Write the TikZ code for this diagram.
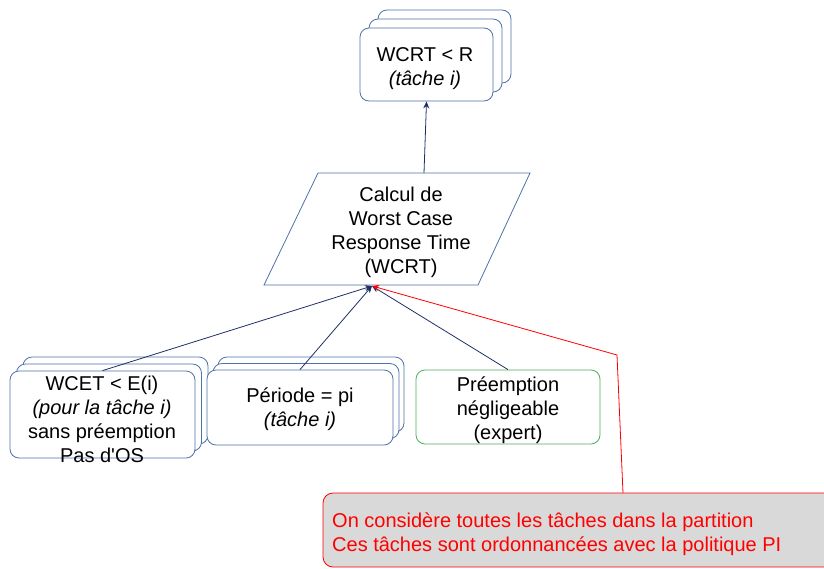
\documentclass[tikz,border=0pt]{standalone}
\usepackage{fontspec}
\setmainfont{Liberation Sans}
\usetikzlibrary{arrows.meta}
\definecolor{boxblue}{HTML}{4F72A8}
\definecolor{navy}{HTML}{1F2F66}
\definecolor{boxgreen}{HTML}{4CAF62}
\definecolor{notegray}{HTML}{D9D9D9}
\begin{document}
\begin{tikzpicture}[x=1pt,y=-1pt,
  every node/.style={font=\fontsize{20}{24}\selectfont, align=center, inner sep=0pt},
  card/.style={draw=boxblue, fill=white, rounded corners=9pt, line width=0.8pt},
  gcard/.style={draw=boxgreen, fill=white, rounded corners=9pt, line width=0.8pt},
  link/.style={draw=navy, line width=0.8pt, -{Stealth[length=7pt,width=6pt]}},
  rlink/.style={draw=red, line width=0.8pt, -{Stealth[length=7pt,width=6pt]}}]
\useasboundingbox (0,0) rectangle (824,568);
% top stacked box
\node[card, minimum width=133pt, minimum height=73pt] (topc) at (444.5,46.5) {};
\node[card, minimum width=133pt, minimum height=73pt] (topb) at (435.5,55.5) {};
\node[card, minimum width=133pt, minimum height=73pt] (topa) at (426.5,64.5) {};
\node (toptxt) at (425,69) {WCRT < R\\\textit{(tâche i)}};
% parallelogram
\draw[draw=boxblue, line width=0.8pt, fill=white] (264,285) -- (478,285) -- (530,173) -- (318,173) -- cycle;
\node (calc) at (401,232) {Calcul de\\Worst Case\\Response Time\\(WCRT)};
\coordinate (ptop) at (424,173);
\coordinate (conv) at (372,286);
% WCET stacked
\node[card, minimum width=185pt, minimum height=87pt] (wc3) at (115.5,400.5) {};
\node[card, minimum width=185pt, minimum height=87pt] (wc2) at (109,407.5) {};
\node[card, minimum width=185pt, minimum height=87pt] (wc1) at (102.5,414.5) {};
\node (wctxt) at (102,419) {WCET < E(i)\\\textit{(pour la tâche i)}\\sans préemption\\Pas d\textquotesingle OS};
% Periode stacked
\node[card, minimum width=186pt, minimum height=75pt] (pe3) at (311,394.5) {};
\node[card, minimum width=186pt, minimum height=75pt] (pe2) at (306,401) {};
\node[card, minimum width=186pt, minimum height=75pt] (pe1) at (300,407.5) {};
\node (petxt) at (300,409) {Période = pi\\\textit{(tâche i)}};
% Preemption
\node[gcard, minimum width=184pt, minimum height=74pt] (pr) at (508,407) {};
\node (prtxt) at (508,410) {Préemption\\négligeable\\(expert)};
% note
\begin{scope}
\clip (0,0) rectangle (824,568);
\draw[draw=red, fill=notegray, line width=0.8pt, rounded corners=10pt] (323,493) rectangle (870,567);
\end{scope}
\node[text=red, align=left, anchor=west] (note) at (332,534) {On considère toutes les tâches dans la partition\\Ces tâches sont ordonnancées avec la politique PI};
\coordinate (nbend) at (617,355);
\coordinate (ntop) at (623,493);
% connectors
\draw[link] (ptop) -- (topa.south);
\draw[link] (wc1.north) -- (conv);
\draw[link] (pe1.north) -- (conv);
\draw[link] (pr.north) -- (conv);
\draw[rlink] (ntop) -- (nbend) -- (conv);
\end{tikzpicture}
\end{document}
